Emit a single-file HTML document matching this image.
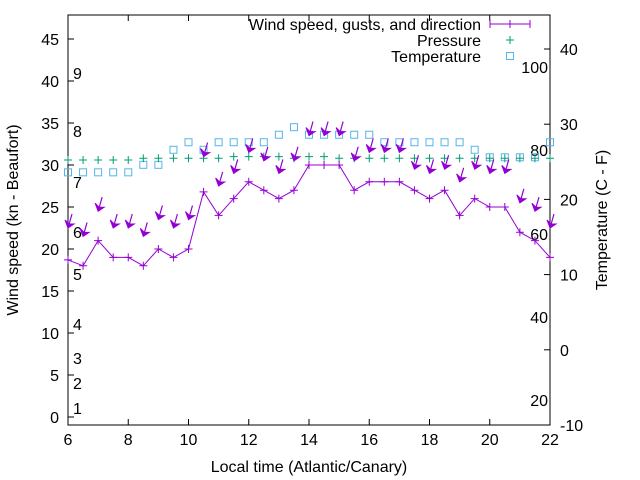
<!DOCTYPE html>
<html><head><meta charset="utf-8"><style>
body{margin:0;background:#fff}
svg{display:block;font-family:"Liberation Sans",sans-serif}
</style></head><body>
<svg id="c" width="640" height="480" viewBox="0 0 640 480"></svg>
<script>
const hours=[6,6.5,7,7.5,8,8.5,9,9.5,10,10.5,11,11.5,12,12.5,13,13.5,14,14.5,15,15.5,16,16.5,17,17.5,18,18.5,19,19.5,20,20.5,21,21.5,22];
const windSpeed=[18.7,18,21,19,19,18,20,19,20,26.8,24,26,28,27,26,27,30,30,30,27,28,28,28,27,26,27,24,26,25,25,22,21,19];
const gusts=[22.5,21.5,24.5,22.5,22.5,21.5,23.5,22.5,23.5,31,27.5,29,31.5,30.5,29,30.5,33.5,33.5,33.5,30.5,31.5,31.5,31.5,29.5,29,29.5,28,29.5,29,29,25.5,24.5,22.5];
const pressure=[30.6,30.6,30.6,30.6,30.6,30.8,30.8,30.8,30.8,30.8,30.8,31,31,31,31,30.8,31,31,30.8,30.8,30.8,30.8,30.8,30.8,30.8,30.8,30.8,30.8,30.8,30.8,30.8,30.8,30.8];
const temperature=[23.6,23.6,23.6,23.6,23.6,24.6,24.6,26.6,27.6,26.6,27.6,27.6,27.6,27.6,28.6,29.6,28.6,28.6,28.6,28.6,28.6,27.6,27.6,27.6,27.6,27.6,27.6,26.6,25.6,25.6,25.6,25.6,27.6];
const xTicks=[6,8,10,12,14,16,18,20,22];
const yTicks=[0,5,10,15,20,25,30,35,40,45];
const y2Ticks=[-10,0,10,20,30,40];
const beaufort=[[1,408],[2,383],[3,358],[4,324],[5,274],[6,232],[7,182],[8,131],[9,73]];
const fahr=[[20,400],[40,317],[60,234],[80,150],[100,67]];

const L=68,R=550,T=15,B=425;
const X=v=>L+(v-6)*(R-L)/16;
const Y=v=>417-v*8.4;
const Y2=v=>425-(v+10)*7.52;
const svg=document.getElementById('c');
const NS='http://www.w3.org/2000/svg';
function mk(tag,at,parent){const e=document.createElementNS(NS,tag);for(const k in at)e.setAttribute(k,at[k]);(parent||svg).appendChild(e);return e;}
const FS=16;

let e=mk('rect',{x:L,y:T,width:R-L,height:B-T,fill:'none',stroke:'#000'});



xTicks.forEach(v=>{
 mk('line',{x1:X(v),x2:X(v),y1:B,y2:B-6,stroke:'#000'});
 mk('line',{x1:X(v),x2:X(v),y1:T,y2:T+6,stroke:'#000'});
 const t=mk('text',{x:X(v),y:B+20,'text-anchor':'middle','font-size':FS});t.textContent=v;
 
 
});
yTicks.forEach(v=>{
 mk('line',{x1:L,x2:L+6,y1:Y(v),y2:Y(v),stroke:'#000'});
 const t=mk('text',{x:L-9,y:Y(v)+6,'text-anchor':'end','font-size':FS});t.textContent=v;
 
 
});
y2Ticks.forEach(v=>{
 mk('line',{x1:R,x2:R-6,y1:Y2(v),y2:Y2(v),stroke:'#000'});
 const t=mk('text',{x:R+10,y:Y2(v)+6,'font-size':FS});t.textContent=v;
 
 
});
beaufort.forEach(([v,y])=>{const t=mk('text',{x:73,y:y+6,'font-size':FS});t.textContent=v;
 
 });
fahr.forEach(([v,y])=>{const t=mk('text',{x:548,y:y+6,'text-anchor':'end','font-size':FS});t.textContent=v;
 
 });

temperature.forEach((v,i)=>{const r=mk('rect',{x:X(hours[i])-3.5,y:Y2(v)-3.5,width:7,height:7,fill:'none',stroke:'#56b4e9'});
 
 });
pressure.forEach((v,i)=>{const x=X(hours[i]),y=Y(v);const p=mk('path',{d:`M${x-4} ${y}H${x+4}M${x} ${y-4}V${y+4}`,stroke:'#009e73'});
 
 });
const ln=mk('polyline',{points:windSpeed.map((v,i)=>X(hours[i])+','+Y(v)).join(' '),fill:'none',stroke:'#9400d3'});


windSpeed.forEach((v,i)=>{const x=X(hours[i]),y=Y(v);const p=mk('path',{d:`M${x-4} ${y}H${x+4}M${x} ${y-4}V${y+4}`,stroke:'#9400d3'});
 
 });
gusts.forEach((v,i)=>{const x=X(hours[i]),y=Y(v);
 const g=mk('g',{});
 
 
 mk('line',{x1:x+4,y1:y-14,x2:x,y2:y,stroke:'#9400d3','stroke-width':1.2},g);
 mk('path',{d:`M${x} ${y}L${x-3} ${y-8}L${x+1} ${y-4}L${x+6} ${y-4}Z`,fill:'#9400d3',stroke:'#9400d3'},g);
});

const leg=[['Wind speed, gusts, and direction',24],['Pressure',40],['Temperature',56]];
leg.forEach(([s,y])=>{const t=mk('text',{x:481,y:y+6,'text-anchor':'end','font-size':FS});t.textContent=s;
 
 });
mk('path',{d:'M490 24H530M490 20V28M530 20V28M510 20V28',stroke:'#9400d3'});
mk('path',{d:'M506 40H514M510 36V44',stroke:'#009e73'});
mk('rect',{x:506.5,y:52.5,width:7,height:7,fill:'none',stroke:'#56b4e9'});

let t=mk('text',{x:(L+R)/2,y:472,'text-anchor':'middle','font-size':FS});t.textContent='Local time (Atlantic/Canary)';


t=mk('text',{x:18,y:220,'text-anchor':'middle','font-size':FS,transform:'rotate(-90 18 220)'});t.textContent='Wind speed (kn - Beaufort)';


t=mk('text',{x:607,y:220,'text-anchor':'middle','font-size':FS,transform:'rotate(-90 607 220)'});t.textContent='Temperature (C - F)';


</script>
</body></html>
